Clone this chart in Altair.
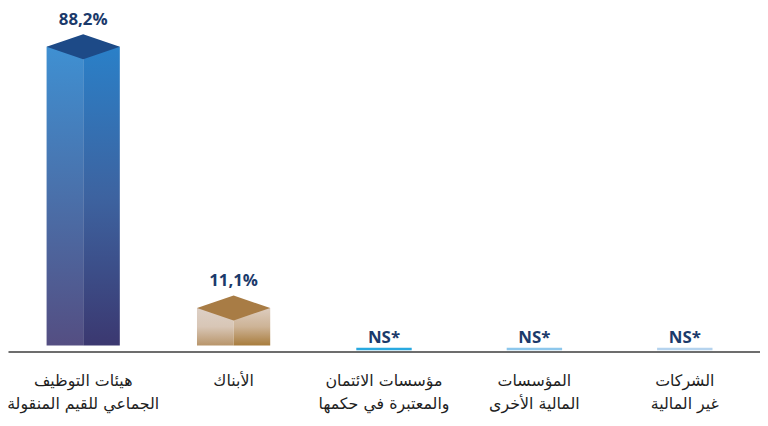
import altair as alt
import pandas as pd

categories = [
    "هيئات التوظيف|الجماعي للقيم المنقولة",
    "الأبناك",
    "مؤسسات الائتمان|والمعتبرة في حكمها",
    "المؤسسات|المالية الأخرى",
    "الشركات|غير المالية",
]
values = [88.2, 11.1, 0, 0, 0]
value_labels = ["88,2%", "11,1%", "NS*", "NS*", "NS*"]
significant = [True, True, False, False, False]

df = pd.DataFrame({
    "cat": categories,
    "value": values,
    "label": value_labels,
    "sig": significant,
})

x_enc = alt.X(
    "cat:N",
    sort=categories,
    scale=alt.Scale(domain=categories, paddingInner=0, paddingOuter=0),
    axis=alt.Axis(
        title=None, labelAngle=0, labelExpr="split(datum.label, '|')",
        ticks=False, domainColor="#6d6d6d", domainWidth=2,
        labelFontSize=16, labelColor="#1e1e1e", labelPadding=21,
        labelLineHeight=24, labelFont="DejaVu Sans", labelFontWeight="normal",
    ),
)
y_enc = alt.Y("value:Q", scale=alt.Scale(domain=[0, 97.25]), axis=None)

base = alt.Chart(df)


def grad(stops):
    return alt.Gradient(
        gradient="linear",
        stops=[alt.GradientStop(offset=o, color=c) for o, c in stops],
        x1=0, y1=0, x2=0, y2=1,
    )


styles = [
    (categories[0],
     [(0, "#3f90d2"), (0.5, "#4a70aa"), (1, "#544e82")],
     [(0, "#2a80c8"), (0.5, "#3d63a0"), (1, "#3b3870")],
     "#1d4a87"),
    (categories[1],
     [(0, "#ddd0c6"), (0.5, "#d8c6b6"), (1, "#b8956a")],
     [(0, "#ddcdbf"), (0.5, "#cdb396"), (1, "#a87c3c")],
     "#a87c45"),
]

diamond = "M-1,0L0,-0.34L1,0L0,0.34Z"

layers = []
for cat, left, right, top in styles:
    b = base.transform_filter(alt.datum.cat == cat)
    layers.append(
        b.mark_bar(width=37, xOffset=-18.5, yOffset=-6, fill=grad(left))
        .encode(x=x_enc, y=y_enc)
    )
    layers.append(
        b.mark_bar(width=37, xOffset=18.5, yOffset=-6, fill=grad(right))
        .encode(x=x_enc, y=y_enc)
    )
    layers.append(
        b.mark_point(shape=diamond, size=5476, filled=True, fill=top,
                     opacity=1, strokeWidth=0, yOffset=-6)
        .encode(x=x_enc, y=y_enc)
    )

ns = base.transform_filter(alt.datum.sig == False)
layers.append(
    ns.mark_tick(size=56, thickness=2.5, yOffset=-2.5, opacity=1)
    .encode(
        x=x_enc, y=y_enc,
        color=alt.Color("cat:N", scale=alt.Scale(
            domain=categories[2:], range=["#29a9e0", "#8dc7ec", "#b5d3ee"]),
            legend=None),
    )
)
layers.append(
    ns.mark_text(font="Open Sans", fontWeight="bold", fontSize=17,
                 color="#1b3a6b", yOffset=-14, baseline="middle")
    .encode(x=x_enc, y=y_enc, text="label:N")
)
layers.append(
    base.transform_filter(alt.datum.sig == True)
    .mark_text(font="Open Sans", fontWeight="bold", fontSize=17,
               color="#1b3a6b", yOffset=-33, baseline="middle")
    .encode(x=x_enc, y=y_enc, text="label:N")
)

chart = alt.layer(*layers).properties(
    width=760, height=333,
    padding={"top": 12, "left": 0, "right": 0, "bottom": 64},
    autosize=alt.AutoSizeParams(type="none"),
).configure_view(stroke=None)

chart.save("out.html", embed_options={"renderer": "svg", "actions": False})
